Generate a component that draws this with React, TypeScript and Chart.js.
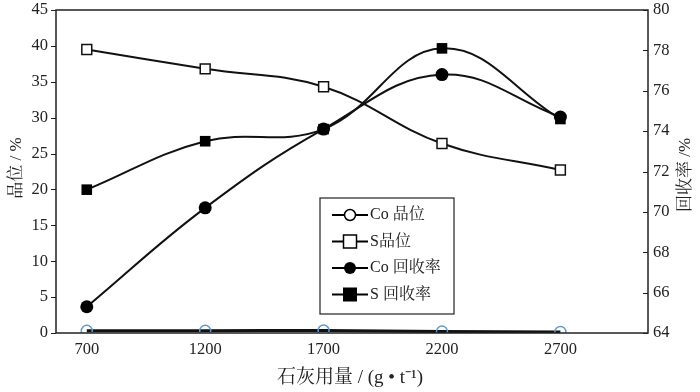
import React, { useEffect, useRef } from "react";
import { Chart, registerables } from "chart.js";

Chart.register(...registerables);

const doses = [700, 1200, 1700, 2200, 2700];
const coGrade = [0.3, 0.3, 0.35, 0.2, 0.15];
const sGrade = [39.5, 36.8, 34.3, 26.4, 22.7];
const coRecovery = [65.3, 70.2, 74.1, 76.8, 74.7];
const sRecovery = [71.1, 73.5, 74.1, 78.1, 74.6];
const leftTicks = [0, 5, 10, 15, 20, 25, 30, 35, 40, 45];
const rightTicks = [64, 66, 68, 70, 72, 74, 76, 78, 80];
const seriesNames = ["Co 品位", "S品位", "Co 回收率", "S 回收率"];
const xTitle = "石灰用量 / (g • t⁻¹)";
const leftTitle = "品位 / %";
const rightTitle = "回收率 /%";

const FONT = "'Liberation Serif', 'Noto Serif CJK SC', 'Noto Sans CJK SC', serif";

function drawMarker(ctx: CanvasRenderingContext2D, kind: string, x: number, y: number, stroke: string) {
  ctx.save();
  ctx.lineWidth = 1.5;
  ctx.strokeStyle = stroke;
  if (kind === "openCircle") {
    ctx.fillStyle = "#fff";
    ctx.beginPath();
    ctx.arc(x, y, 5.5, 0, Math.PI * 2);
    ctx.fill();
    ctx.stroke();
  } else if (kind === "openSquare") {
    ctx.fillStyle = "#fff";
    ctx.fillRect(x - 6.5, y - 6.5, 13, 13);
    ctx.strokeRect(x - 6.5, y - 6.5, 13, 13);
  } else if (kind === "circle") {
    ctx.fillStyle = "#000";
    ctx.beginPath();
    ctx.arc(x, y, 6, 0, Math.PI * 2);
    ctx.fill();
  } else {
    ctx.fillStyle = "#000";
    ctx.fillRect(x - 7, y - 7, 14, 14);
  }
  ctx.restore();
}

const decorPlugin = {
  id: "decor",
  afterDraw(chart: any) {
    const { ctx, chartArea } = chart;
    const { left, right, top, bottom } = chartArea;
    const yL = chart.scales.y;
    const yR = chart.scales.y1;
    ctx.save();
    ctx.strokeStyle = "#222";
    ctx.lineWidth = 1.5;
    ctx.strokeRect(left, top, right - left, bottom - top);
    ctx.lineWidth = 1.2;
    ctx.beginPath();
    leftTicks.forEach((v) => {
      const p = Math.round(yL.getPixelForValue(v)) + 0.5;
      ctx.moveTo(left, p);
      ctx.lineTo(left - 5, p);
    });
    rightTicks.forEach((v) => {
      const p = Math.round(yR.getPixelForValue(v)) + 0.5;
      ctx.moveTo(right, p);
      ctx.lineTo(right - 5, p);
    });
    ctx.stroke();

    // axis titles
    ctx.fillStyle = "#222";
    ctx.font = `19px ${FONT}`;
    ctx.textAlign = "center";
    ctx.textBaseline = "middle";
    ctx.fillText(xTitle, 350, 378);
    ctx.font = `17px ${FONT}`;
    ctx.save();
    ctx.translate(17, 168);
    ctx.rotate(-Math.PI / 2);
    ctx.fillText(leftTitle, 0, 0);
    ctx.restore();
    ctx.save();
    ctx.translate(686, 175);
    ctx.rotate(-Math.PI / 2);
    ctx.fillText(rightTitle, 0, 0);
    ctx.restore();

    // legend
    const bx = 320, by = 198, bw = 134, bh = 116;
    ctx.fillStyle = "#fff";
    ctx.fillRect(bx, by, bw, bh);
    ctx.lineWidth = 1.2;
    ctx.strokeStyle = "#222";
    ctx.strokeRect(bx, by, bw, bh);
    const kinds = ["openCircle", "openSquare", "circle", "square"];
    ctx.font = `16px ${FONT}`;
    ctx.textAlign = "left";
    seriesNames.forEach((name, i) => {
      const yy = by + 17 + i * 26.5;
      ctx.lineWidth = 2;
      ctx.strokeStyle = "#000";
      ctx.beginPath();
      ctx.moveTo(bx + 12, yy);
      ctx.lineTo(bx + 48, yy);
      ctx.stroke();
      drawMarker(ctx, kinds[i], bx + 30, yy, "#000");
      ctx.fillStyle = "#222";
      ctx.fillText(name, bx + 50, yy);
    });
    ctx.restore();
  },
};

const noPad = (axis: any, w: number) => {
  axis.width = w;
  axis.paddingTop = 0;
  axis.paddingBottom = 0;
};

export default function App() {
  const ref = useRef<HTMLCanvasElement | null>(null);
  useEffect(() => {
    document.body.style.margin = "0";
    const pts = (arr: number[]) => doses.map((d, i) => ({ x: d, y: arr[i] }));
    const chart = new Chart(ref.current as HTMLCanvasElement, {
      type: "line",
      data: {
        datasets: [
          {
            label: seriesNames[1],
            data: pts(sGrade),
            yAxisID: "y",
            borderColor: "#111",
            borderWidth: 2,
            tension: 0.4,
            pointStyle: "rect",
            pointRadius: 7,
            pointBackgroundColor: "#fff",
            pointBorderColor: "#111",
            pointBorderWidth: 1.5,
          },
          {
            label: seriesNames[2],
            data: pts(coRecovery),
            yAxisID: "y1",
            borderColor: "#111",
            borderWidth: 2,
            tension: 0.4,
            pointStyle: "circle",
            pointRadius: 6.5,
            pointBackgroundColor: "#000",
            pointBorderColor: "#000",
            pointBorderWidth: 0,
          },
          {
            label: seriesNames[3],
            data: pts(sRecovery),
            yAxisID: "y1",
            borderColor: "#111",
            borderWidth: 2,
            tension: 0.4,
            pointStyle: "rect",
            pointRadius: 7.5,
            pointBackgroundColor: "#000",
            pointBorderColor: "#000",
            pointBorderWidth: 0,
          },
          {
            label: seriesNames[0],
            data: pts(coGrade),
            yAxisID: "y",
            borderColor: "#111",
            borderWidth: 3,
            tension: 0.4,
            pointStyle: "circle",
            pointRadius: 5.5,
            pointBackgroundColor: "rgba(255,255,255,0)",
            pointBorderColor: "#5b9bd5",
            pointBorderWidth: 1.5,
          },
        ],
      },
      options: {
        responsive: false,
        animation: false,
        layout: { padding: { top: 10, left: 0, right: 0, bottom: 0 } },
        plugins: { legend: { display: false }, tooltip: { enabled: false } },
        scales: {
          x: {
            type: "linear",
            min: 570,
            max: 3070,
            grid: { display: false, drawTicks: false },
            border: { display: false },
            afterBuildTicks: (axis: any) => {
              axis.ticks = doses.map((v) => ({ value: v }));
            },
            afterFit: (axis: any) => {
              axis.height = 59;
              axis.paddingLeft = 0;
              axis.paddingRight = 0;
            },
            ticks: {
              color: "#222",
              padding: 7,
              maxRotation: 0,
              font: { family: FONT, size: 16.5 },
              callback: (v: any) => String(v),
            },
          },
          y: {
            position: "left",
            min: 0,
            max: 45,
            grid: { display: false, drawTicks: false },
            border: { display: false },
            afterBuildTicks: (axis: any) => {
              axis.ticks = leftTicks.map((v) => ({ value: v }));
            },
            afterFit: (axis: any) => noPad(axis, 56),
            ticks: { color: "#222", padding: 8, font: { family: FONT, size: 16.5 } },
          },
          y1: {
            position: "right",
            min: 64,
            max: 80,
            grid: { display: false, drawTicks: false },
            border: { display: false },
            afterBuildTicks: (axis: any) => {
              axis.ticks = rightTicks.map((v) => ({ value: v }));
            },
            afterFit: (axis: any) => noPad(axis, 52),
            ticks: { color: "#222", padding: 5, font: { family: FONT, size: 16.5 } },
          },
        },
      },
      plugins: [decorPlugin],
    } as any);
    return () => chart.destroy();
  }, []);
  return (
    <div style={{ width: 700, height: 392, background: "#fff" }}>
      <canvas ref={ref} width={700} height={392} />
    </div>
  );
}
